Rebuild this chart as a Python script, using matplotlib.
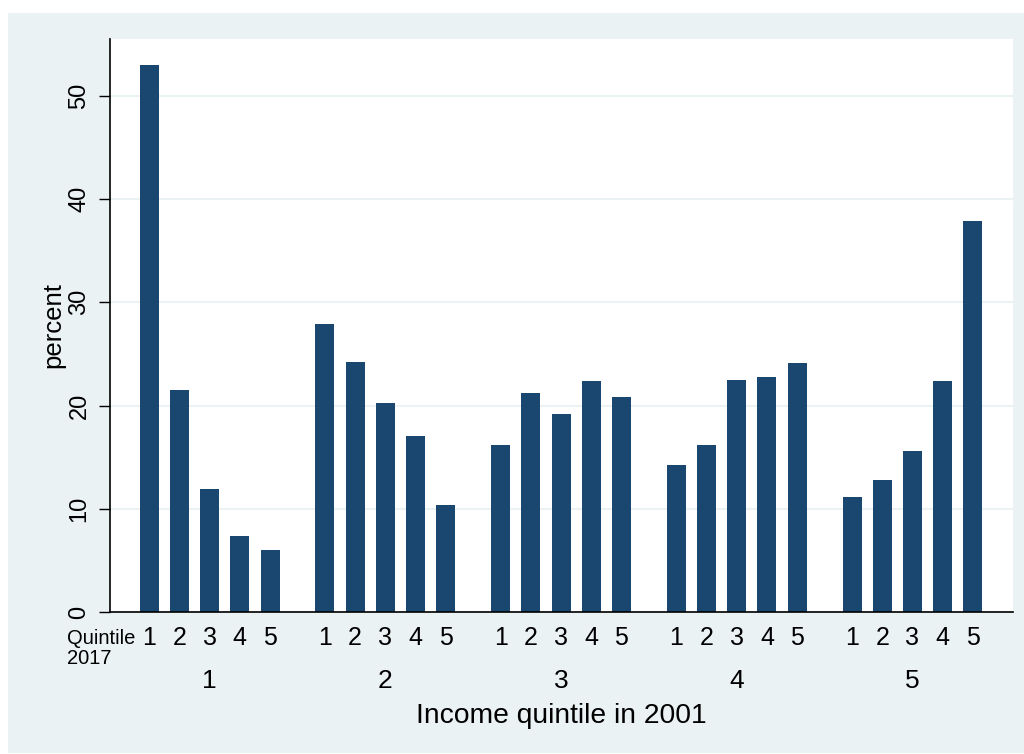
import matplotlib
matplotlib.use("Agg")
import matplotlib.pyplot as plt
import matplotlib.transforms as mtransforms
from matplotlib.patches import Rectangle
import numpy as np

# Share of people in each 2017 quintile, by their 2001 income quintile
groups_2001 = ["1", "2", "3", "4", "5"]
quintiles_2017 = ["1", "2", "3", "4", "5"]
percent = [
    [53.0, 21.5, 11.9, 7.4, 6.0],
    [27.9, 24.2, 20.2, 17.0, 10.4],
    [16.2, 21.25, 19.2, 22.4, 20.8],
    [14.2, 16.2, 22.5, 22.8, 24.1],
    [11.1, 12.8, 15.6, 22.4, 37.9],
]

navy = "#1A476F"
panel = "#EAF2F3"
plt.rcParams["font.family"] = ["Liberation Sans", "DejaVu Sans"]

fig = plt.figure(figsize=(10.24, 7.54), dpi=100)
fig.patch.set_facecolor("white")
fig.patches.append(Rectangle((8 / 1024, 1 - 753 / 754), 1016 / 1024, 740 / 754,
                             transform=fig.transFigure, facecolor=panel,
                             edgecolor="none", zorder=-1))

ax = fig.add_axes([110 / 1024, 1 - 612 / 754, 903 / 1024, 573 / 754])
ax.set_facecolor("white")

group_step = 5.82
width = 0.63
xpos, xlab = [], []
for g, vals in enumerate(percent):
    x = g * group_step + np.arange(len(vals))
    ax.bar(x, vals, width=width, color=navy, zorder=3)
    xpos.extend(x)
    xlab.extend(quintiles_2017)

ax.set_xlim(-1.3, 4 * group_step + 4 + 1.33)
ax.set_ylim(0, 55.5)
ax.set_yticks([0, 10, 20, 30, 40, 50])
ax.set_yticklabels(["0", "10", "20", "30", "40", "50"], rotation=90, va="center", fontsize=17)
ax.tick_params(axis="y", length=8, width=1, pad=6)
ax.grid(axis="y", color=panel, linewidth=1.5, zorder=0)
ax.set_xticks([])
for s in ["top", "right"]:
    ax.spines[s].set_visible(False)
for s in ["left", "bottom"]:
    ax.spines[s].set_linewidth(1.2)
    ax.spines[s].set_zorder(4)

ax.set_ylabel("percent", fontsize=18.5, labelpad=2)

# category labels below the axis
trans = mtransforms.blended_transform_factory(ax.transData, fig.transFigure)
for x, lab in zip(xpos, xlab):
    ax.text(x, 1 - 638 / 754, lab, transform=trans, ha="center", va="center", fontsize=18)
for g, lab in enumerate(groups_2001):
    ax.text(g * group_step + 2, 1 - 681 / 754, lab, transform=trans,
            ha="center", va="center", fontsize=19)
fig.text(67 / 1024, 1 - 638 / 754, "Quintile", ha="left", va="center", fontsize=14.5)
fig.text(67 / 1024, 1 - 658 / 754, "2017", ha="left", va="center", fontsize=14.5)
fig.text(561.5 / 1024, 1 - 716 / 754, "Income quintile in 2001", ha="center",
         va="center", fontsize=20.3)

fig.savefig("out.png", dpi=100)
